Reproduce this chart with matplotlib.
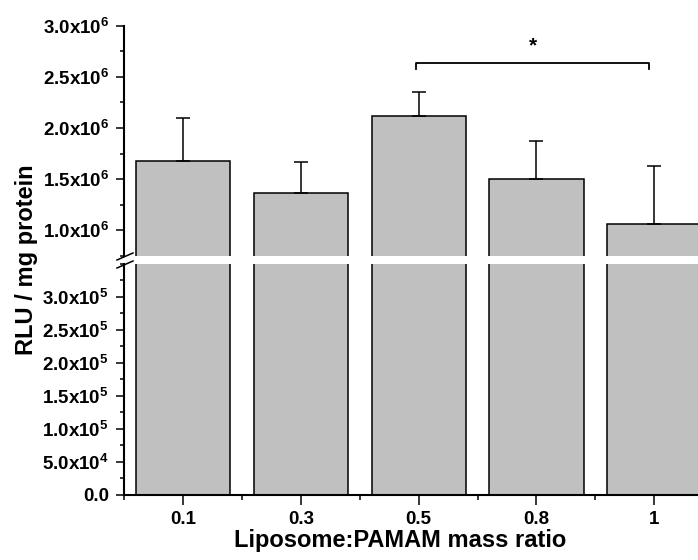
import matplotlib
matplotlib.use('Agg')
import matplotlib.pyplot as plt
import numpy as np
from matplotlib.lines import Line2D
from matplotlib.ticker import MultipleLocator, FixedLocator

plt.rcParams['font.family'] = ['Liberation Sans', 'DejaVu Sans']
plt.rcParams['font.weight'] = 'bold'
plt.rcParams['mathtext.fontset'] = 'custom'
plt.rcParams['mathtext.rm'] = 'Liberation Sans:bold'
plt.rcParams['mathtext.default'] = 'rm'

# data
ratios = ['0.1', '0.3', '0.5', '0.8', '1']
rlu = [1.677e6, 1.361e6, 2.119e6, 1.501e6, 1.062e6]
rlu_err = [0.417e6, 0.306e6, 0.232e6, 0.371e6, 0.566e6]

upper_ticks = [1.0e6, 1.5e6, 2.0e6, 2.5e6, 3.0e6]
upper_labels = ['1.0x10$^{6}$', '1.5x10$^{6}$', '2.0x10$^{6}$', '2.5x10$^{6}$', '3.0x10$^{6}$']
lower_ticks = [0, 5e4, 1e5, 1.5e5, 2e5, 2.5e5, 3e5]
lower_labels = ['0.0', '5.0x10$^{4}$', '1.0x10$^{5}$', '1.5x10$^{5}$',
                '2.0x10$^{5}$', '2.5x10$^{5}$', '3.0x10$^{5}$']

# significance bracket between 0.5 and 1
sig_pair = (2, 4)
sig_y = 2.63e6
sig_drop = 0.05e6
sig_label = '*'

W, H = 698, 560
fig = plt.figure(figsize=(W / 100, H / 100), dpi=100)

left = 124.3 / W
width = (W - 124.3) / W
ax_h = 230.5 / H
ax_top = fig.add_axes([left, 1 - 256 / H, width, ax_h])
ax_bot = fig.add_axes([left, 1 - 494.5 / H, width, ax_h])

x = np.arange(len(ratios))
for ax in (ax_top, ax_bot):
    ax.bar(x, rlu, width=0.8, color='#c0c0c0', edgecolor='black', linewidth=1.1, zorder=2)
    ax.set_xlim(-0.5, (W - 124.3) / 117.75 - 0.5)
    for s in ('top', 'right'):
        ax.spines[s].set_visible(False)
    ax.spines['left'].set_linewidth(1.5)
    ax.spines['bottom'].set_linewidth(1.5)
    ax.tick_params(axis='y', which='major', direction='out', length=6, width=1.1, labelsize=13.5, pad=5)
    ax.tick_params(axis='y', which='minor', direction='out', length=3, width=1.1)

ax_top.errorbar(x, rlu, yerr=[np.zeros(len(rlu)), rlu_err], fmt='none', ecolor='black',
                elinewidth=1.1, capsize=5, capthick=1.1, zorder=3)

ax_top.set_ylim(0.75e6, 3.0e6)
ax_top.set_yticks(upper_ticks)
ax_top.set_yticklabels(upper_labels)
ax_top.yaxis.set_minor_locator(MultipleLocator(0.25e6))
ax_top.spines['bottom'].set_visible(False)
ax_top.set_xticks([])
ax_top.tick_params(axis='x', which='both', bottom=False, labelbottom=False)

ax_bot.set_ylim(0, 3.5e5)
ax_bot.set_yticks(lower_ticks)
ax_bot.set_yticklabels(lower_labels)
ax_bot.yaxis.set_minor_locator(MultipleLocator(2.5e4))
ax_bot.set_xticks(x)
ax_bot.set_xticklabels(ratios)
ax_bot.xaxis.set_minor_locator(FixedLocator(np.arange(-0.5, len(ratios), 1.0)))
ax_bot.tick_params(axis='x', which='major', direction='out', length=7, width=1.1, labelsize=13.5, pad=5)
ax_bot.tick_params(axis='x', which='minor', direction='out', length=3.5, width=1.1)

# bracket
x0, x1 = sig_pair[0] - 0.02, sig_pair[1] - 0.04
ax_top.plot([x0, x0, x1, x1], [sig_y - sig_drop, sig_y, sig_y, sig_y - sig_drop],
            color='black', linewidth=1.3, clip_on=False)
ax_top.text((x0 + x1) / 2, sig_y + 0.08e6, sig_label, ha='center', va='bottom', fontsize=15)

# axis break marks
for yc in (256.5, 264.5):
    fig.add_artist(Line2D([117 / W, 133 / W], [1 - (yc + 3.5) / H, 1 - (yc - 3.5) / H],
                          color='black', linewidth=1.1))

fig.text(27 / W, 1 - 260 / H, 'RLU / mg protein', rotation=90, ha='center', va='center', fontsize=17)
fig.text(400 / W, 1 - 541 / H, 'Liposome:PAMAM mass ratio', ha='center', va='center', fontsize=17)

fig.savefig('out.png', dpi=100)
